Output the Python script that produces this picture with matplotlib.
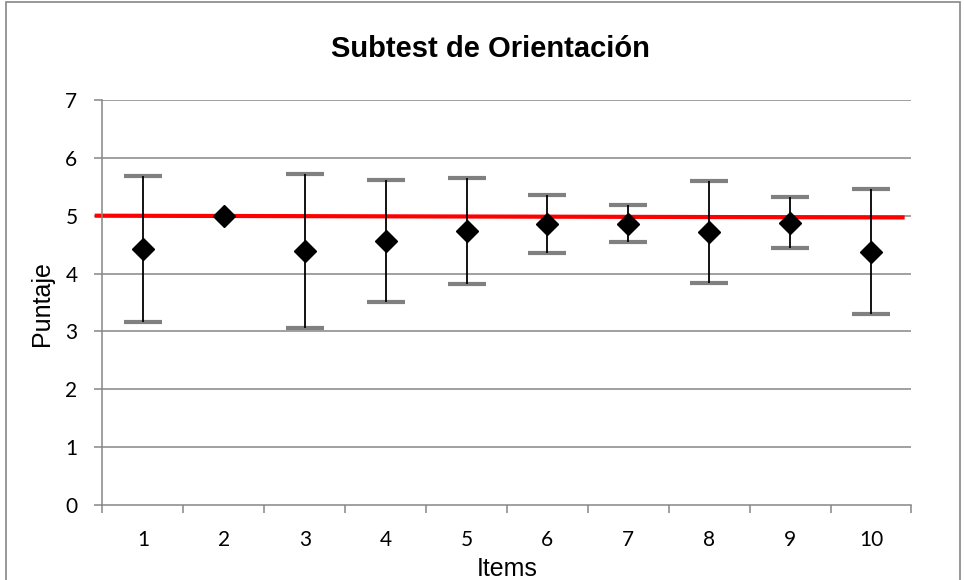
import matplotlib
matplotlib.use('Agg')
import matplotlib.pyplot as plt
from matplotlib.patches import Rectangle
import numpy as np

plt.rcParams['font.family'] = ['Lato', 'DejaVu Sans']
arial = ['Liberation Sans', 'DejaVu Sans']

# Data
items = [1, 2, 3, 4, 5, 6, 7, 8, 9, 10]
means = [4.43, 5.00, 4.39, 4.56, 4.74, 4.86, 4.86, 4.72, 4.88, 4.38]
sds = [1.26, 0.00, 1.33, 1.06, 0.92, 0.50, 0.32, 0.88, 0.44, 1.08]
ref_x = [0.43, 10.39]
ref_y = [5.0, 4.97]
y_ticks = [0, 1, 2, 3, 4, 5, 6, 7]

grid_col = '#868686'

fig = plt.figure(figsize=(9.64, 5.80), dpi=100)
ax = fig.add_axes([0.1063, 0.1293, 0.8392, 0.6983])

# outer chart border (bottom edge is cut off in the original)
fig.patches.append(Rectangle((0.0062, -0.02), 0.9896, 1.0166, transform=fig.transFigure,
                             fill=False, edgecolor=grid_col, linewidth=1.2))

for yv in y_ticks[1:]:
    ax.axhline(yv, color=grid_col, linewidth=1.1, zorder=1)

ax.plot(ref_x, ref_y, color='#FF0000', linewidth=3.0, zorder=2, clip_on=False)

# error bars only where there is spread
has_err = [i for i, s in enumerate(sds) if s > 0]
eb = ax.errorbar([items[i] for i in has_err], [means[i] for i in has_err],
                 yerr=[sds[i] for i in has_err], fmt='none',
                 ecolor='black', elinewidth=1.3, capsize=14, capthick=3.0, zorder=3)
for cap in eb[1]:
    cap.set_color('#808080')
    cap.set_markeredgecolor('#808080')
    cap.set_zorder(2.5)

ax.plot(items, means, 'D', color='black', markersize=11.5, zorder=4)

ax.set_xlim(0.5, 10.5)
ax.set_ylim(0, 7)
ax.set_yticks(y_ticks)
ax.set_xticks(items)
ax.set_xticks(np.arange(0.5, 11, 1), minor=True)
ax.tick_params(axis='x', which='major', length=0, labelsize=15, pad=18)
ax.tick_params(axis='x', which='minor', length=6, color=grid_col, width=1.1)
ax.tick_params(axis='y', length=6, color=grid_col, width=1.1, labelsize=15, pad=12)

for s in ['top', 'right']:
    ax.spines[s].set_visible(False)
for s in ['left', 'bottom']:
    ax.spines[s].set_color(grid_col)
    ax.spines[s].set_linewidth(1.1)

fig.text(0.5265, 0.0069, 'Items', ha='center', va='baseline', fontsize=18, family=arial)
fig.text(0.0436, 0.4767, 'Puntaje', ha='center', va='center', rotation=90,
         fontsize=18, family=arial)
fig.text(0.509, 0.902, 'Subtest de Orientación', ha='center', va='baseline',
         fontsize=21, fontweight='bold', family=arial)

fig.savefig('out.png', dpi=100)
